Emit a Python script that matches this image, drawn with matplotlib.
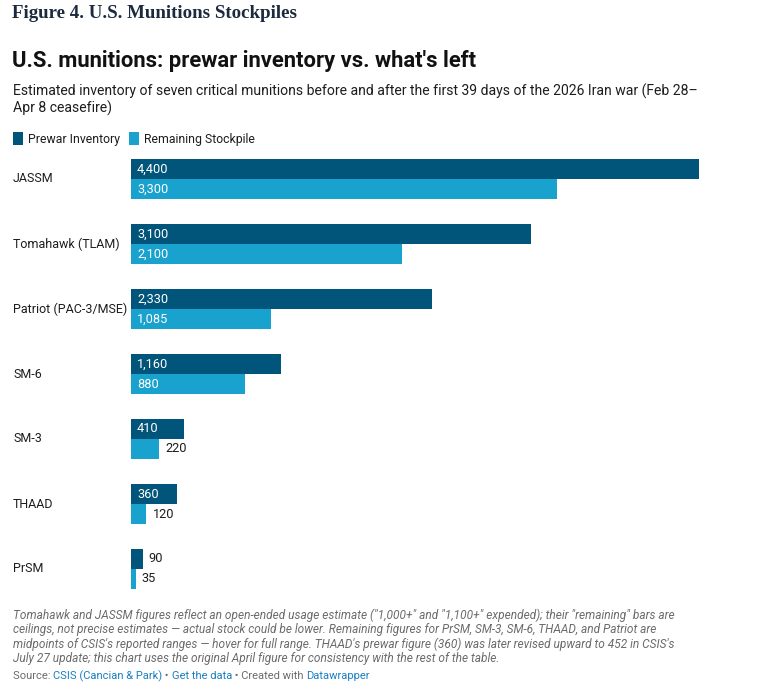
import numpy as np
import matplotlib
matplotlib.use('Agg')
from matplotlib import pyplot as plt

# data
munitions = ['JASSM', 'Tomahawk (TLAM)', 'Patriot (PAC-3/MSE)', 'SM-6', 'SM-3', 'THAAD', 'PrSM']
prewar = [4400, 3100, 2330, 1160, 410, 360, 90]
remaining = [3300, 2100, 1085, 880, 220, 120, 35]
series_names = ['Prewar Inventory', 'Remaining Stockpile']

DARK = '#01547a'
LIGHT = '#18a2cd'
TXT = '#1d1d1d'
GREY = '#6b6b6b'
LINK = '#1a7fc1'

plt.rcParams['font.family'] = ['Roboto', 'DejaVu Sans']

W, H = 784, 686
fig = plt.figure(figsize=(W / 100, H / 100), dpi=100)


def fx(px):
    return px / W


def fy(py):
    return 1 - py / H


# axes placement in pixels
left, right, top, bottom = 131, 699, 159, 589
ax = fig.add_axes([fx(left), fy(bottom), fx(right - left), (bottom - top) / H])

bh = 20 / 65
pos = np.arange(len(munitions))
ax.barh(pos - bh / 2, prewar, height=bh, color=DARK, linewidth=0)
ax.barh(pos + bh / 2, remaining, height=bh, color=LIGHT, linewidth=0)
ax.set_xlim(0, max(prewar))
ax.set_ylim(len(munitions) - 1 + bh, -bh)
ax.axis('off')

px_per_unit = (right - left) / max(prewar)
for i, name in enumerate(munitions):
    ax.text(-118 / px_per_unit, i, name, ha='left', va='center', fontsize=9, color=TXT)
    for val, yy in ((prewar[i], i - bh / 2), (remaining[i], i + bh / 2)):
        lbl = f'{val:,}'
        if val * px_per_unit > 45:
            ax.text(6 / px_per_unit, yy, lbl, ha='left', va='center', fontsize=9.2, color='white')
        else:
            ax.text(val + 6 / px_per_unit, yy, lbl, ha='left', va='center', fontsize=9.2, color=TXT)

# header
fig.text(fx(12), fy(13), 'Figure 4. U.S. Munitions Stockpiles', fontsize=13.6, fontweight='bold',
         family='Liberation Serif', color='#1c2a3e', va='center', ha='left')
fig.text(fx(12), fy(61), "U.S. munitions: prewar inventory vs. what's left", fontsize=15.8,
         fontweight='bold', color='#111111', va='center', ha='left')
fig.text(fx(13), fy(91), 'Estimated inventory of seven critical munitions before and after the first 39 days '
         'of the 2026 Iran war (Feb 28–', fontsize=10.1, color=TXT, va='center', ha='left')
fig.text(fx(13), fy(108), 'Apr 8 ceasefire)', fontsize=10.1, color=TXT, va='center', ha='left')

# legend
for x0, col, name in ((13, DARK, series_names[0]), (129, LIGHT, series_names[1])):
    fig.patches.append(plt.Rectangle((fx(x0), fy(145)), 10 / W, 13 / H, transform=fig.transFigure,
                                     color=col, linewidth=0))
    fig.text(fx(x0 + 15), fy(139), name, fontsize=8.8, color=TXT, va='center', ha='left')

# notes
notes = [
    'Tomahawk and JASSM figures reflect an open-ended usage estimate ("1,000+" and "1,100+" expended); their "remaining" bars are',
    "ceilings, not precise estimates — actual stock could be lower. Remaining figures for PrSM, SM-3, SM-6, THAAD, and Patriot are",
    "midpoints of CSIS's reported ranges — hover for full range. THAAD's prewar figure (360) was later revised upward to 452 in CSIS's",
    'July 27 update; this chart uses the original April figure for consistency with the rest of the table.',
]
for k, line in enumerate(notes):
    fig.text(fx(13), fy(615 + 14.5 * k), line, fontsize=8.6, style='italic', color=GREY,
             va='center', ha='left')

# source line, pieces in two colours
fig.canvas.draw()
renderer = fig.canvas.get_renderer()
pieces = [('Source: ', GREY), ('CSIS (Cancian & Park)', LINK), (' • ', GREY), ('Get the data', LINK),
          (' • Created with ', GREY), ('Datawrapper', LINK)]
xcur = 13
for txt, col in pieces:
    t = fig.text(fx(xcur), fy(676), txt, fontsize=8, color=col, va='center', ha='left')
    bb = t.get_window_extent(renderer)
    xcur += bb.width

fig.savefig('out.png', dpi=100)
